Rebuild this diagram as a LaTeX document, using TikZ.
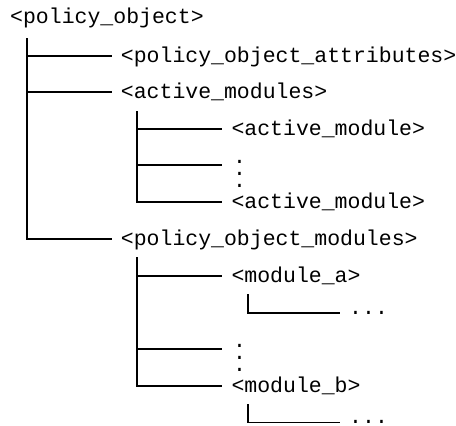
\documentclass[tikz,border=0pt]{standalone}
\usepackage{fontspec}
\setmonofont{Liberation Mono}
\begin{document}
\begin{tikzpicture}[x=1pt,y=-1pt,
    txt/.style={inner xsep=9pt, inner ysep=0pt,
      font=\ttfamily\fontsize{21.5}{24}\selectfont},
    item/.style={txt, anchor=mid west,
      execute at begin node={\lower4.2pt\hbox\bgroup},
      execute at end node={\egroup}},
    ell/.style={txt, anchor=base west},
    tree/.style={line width=1.8pt}]
  \useasboundingbox (0,0) rectangle (456,426);
  % top level
  \node[item] (root) at (1,17.5) {<policy\_object>};
  \node[item] (attrs) at (111.7,55.7) {<policy\_object\_attributes>};
  \node[item] (active) at (111.7,91.7) {<active\_modules>};
  \node[item] (pomods) at (111.7,239.3) {<policy\_object\_modules>};
  \coordinate (t0) at (26.7,38);
  \draw[tree] (t0) |- (attrs.mid west);
  \draw[tree] (t0) |- (active.mid west);
  \draw[tree] (t0) |- (pomods.mid west);
  % active modules
  \node[item] (am1) at (222.3,129) {<active\_module>};
  \node[item] (am2) at (222.3,202.3) {<active\_module>};
  \foreach \y [count=\i] in {163.5,175.3,187}
    \node[ell] (amdot\i) at (223.8,\y) {.};
  \coordinate (t1) at (137.3,111);
  \coordinate (d1) at (222.3,165);
  \draw[tree] (t1) |- (am1.mid west);
  \draw[tree] (t1) |- (d1);
  \draw[tree] (t1) |- (am2.mid west);
  % policy object modules
  \node[item] (moda) at (222.3,275.7) {<module\_a>};
  \node[item] (modb) at (222.3,386) {<module\_b>};
  \foreach \y [count=\i] in {347.7,359.3,371}
    \node[ell] (moddot\i) at (223.8,\y) {.};
  \coordinate (t2) at (137.3,257.3);
  \coordinate (d2) at (222.3,349.3);
  \draw[tree] (t2) |- (moda.mid west);
  \draw[tree] (t2) |- (d2);
  \draw[tree] (t2) |- (modb.mid west);
  % module contents
  \node[ell] (ella) at (340,314) {...};
  \node[ell] (ellb) at (340,423.5) {...};
  \draw[tree] (248.3,294) |- ([yshift=1pt]ella.base west);
  \draw[tree] (248.3,404) |- ([yshift=1pt]ellb.base west);
\end{tikzpicture}
\end{document}
